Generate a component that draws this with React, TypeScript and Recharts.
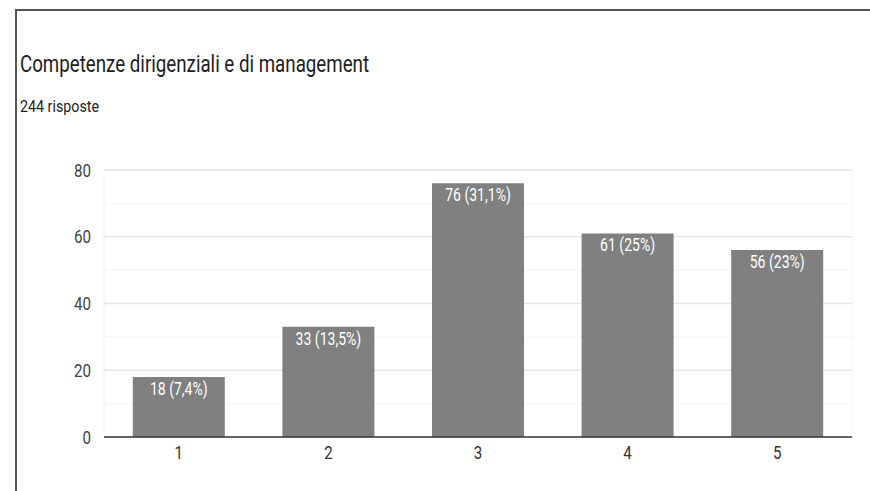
import { BarChart, Bar, XAxis, YAxis, CartesianGrid, LabelList } from "recharts";

const categories = ["1", "2", "3", "4", "5"];
const counts = [18, 33, 76, 61, 56];
const percents = ["7,4%", "13,5%", "31,1%", "25%", "23%"];
const gridTicks = [0, 10, 20, 30, 40, 50, 60, 70, 80];
const majorTicks = [20, 40, 60, 80];
const yMax = 80;

const data = categories.map((c, i) => ({
  name: c,
  value: counts[i],
  label: `${counts[i]} (${percents[i]})`,
}));

const font = "Roboto, 'Noto Sans', sans-serif";

// the source image text is narrow and tall, so squeeze it horizontally
const YTick = ({ x, y, payload }: any) => {
  if (payload.value % 20 !== 0) return null;
  return (
    <text
      transform={`translate(${x},${y}) scale(0.84,1)`}
      textAnchor="end"
      dy={6.5}
      fill="#444"
      fontSize={18}
      fontFamily={font}
    >
      {payload.value}
    </text>
  );
};

const XTick = ({ x, y, payload }: any) => (
  <text
    transform={`translate(${x},${y}) scale(0.84,1)`}
    textAnchor="middle"
    dy={16}
    fill="#333"
    fontSize={18}
    fontFamily={font}
  >
    {payload.value}
  </text>
);

const BarLabel = ({ x, y, width, value }: any) => (
  <text
    transform={`translate(${x + width / 2},${y}) scale(0.78,1)`}
    textAnchor="middle"
    dy={18}
    fill="#fff"
    fontSize={18}
    fontFamily={font}
  >
    {value}
  </text>
);

export default function App() {
  return (
    <div style={{ position: "absolute", left: 0, top: 0, width: 870, height: 491, background: "#fff", overflow: "hidden", fontFamily: font }}>
      <div style={{ position: "absolute", left: 15, top: 9, right: 0, bottom: 0, borderTop: "2px solid #555", borderLeft: "2px solid #555" }} />
      <div
        style={{
          position: "absolute",
          left: 20,
          top: 52,
          fontSize: 24,
          lineHeight: "24px",
          whiteSpace: "nowrap",
          color: "#212121",
          transform: "scaleX(0.78)",
          transformOrigin: "left top",
        }}
      >
        Competenze dirigenziali e di management
      </div>
      <div
        style={{
          position: "absolute",
          left: 20,
          top: 98,
          fontSize: 17,
          lineHeight: "17px",
          whiteSpace: "nowrap",
          color: "#212121",
          transform: "scaleX(0.84)",
          transformOrigin: "left top",
        }}
      >
        244 risposte
      </div>
      <div style={{ position: "absolute", left: 0, top: 0 }}>
        <BarChart width={870} height={491} data={data} margin={{ top: 170, right: 18, bottom: 24, left: 44 }} barCategoryGap="19.25%">
          <CartesianGrid
            stroke="#f3f3f3"
            verticalCoordinatesGenerator={({ offset }: any) => [offset.left, offset.left + offset.width]}
          />
          <CartesianGrid
            stroke="#e6e6e6"
            strokeWidth={1.5}
            vertical={false}
            horizontalCoordinatesGenerator={({ offset }: any) =>
              majorTicks.map((t) => offset.top + offset.height * (1 - t / yMax))
            }
          />
          <XAxis
            dataKey="name"
            tickLine={false}
            axisLine={{ stroke: "#333", strokeWidth: 1.5 }}
            tick={<XTick />}
            height={30}
            tickMargin={0}
          />
          <YAxis
            domain={[0, yMax]}
            ticks={gridTicks}
            interval={0}
            axisLine={false}
            tickLine={false}
            tick={<YTick />}
            width={60}
            tickMargin={7}
          />
          <Bar dataKey="value" fill="#808080" isAnimationActive={false}>
            <LabelList dataKey="label" content={<BarLabel />} />
          </Bar>
        </BarChart>
      </div>
    </div>
  );
}
